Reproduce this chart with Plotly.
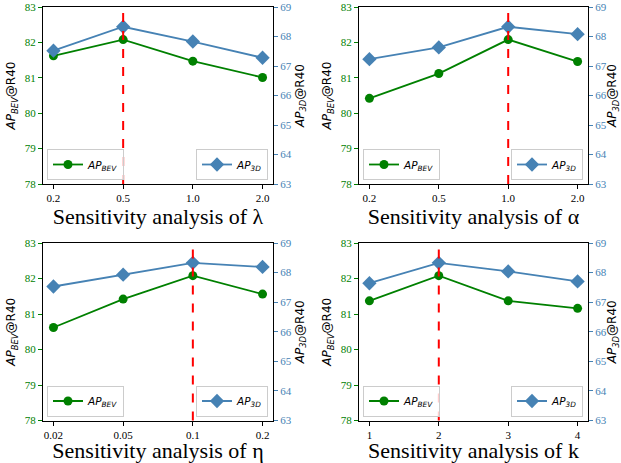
import plotly.graph_objects as go

# ---- data ----
lambda_labels = ["0.2", "0.5", "1.0", "2.0"]
lambda_bev = [81.62, 82.08, 81.47, 81.01]
lambda_3d = [67.52, 68.33, 67.83, 67.28]
lambda_best = "0.5"

alpha_labels = ["0.2", "0.5", "1.0", "2.0"]
alpha_bev = [80.42, 81.12, 82.08, 81.46]
alpha_3d = [67.23, 67.63, 68.33, 68.08]
alpha_best = "1.0"

eta_labels = ["0.02", "0.05", "0.1", "0.2"]
eta_bev = [80.62, 81.42, 82.08, 81.56]
eta_3d = [67.53, 67.93, 68.33, 68.19]
eta_best = "0.1"

k_labels = ["1", "2", "3", "4"]
k_bev = [81.37, 82.08, 81.37, 81.16]
k_3d = [67.64, 68.33, 68.04, 67.70]
k_best = "2"

titles = ["Sensitivity analysis of λ", "Sensitivity analysis of α",
          "Sensitivity analysis of η", "Sensitivity analysis of k"]
panels = [
    (lambda_labels, lambda_bev, lambda_3d, lambda_best),
    (alpha_labels, alpha_bev, alpha_3d, alpha_best),
    (eta_labels, eta_bev, eta_3d, eta_best),
    (k_labels, k_bev, k_3d, k_best),
]

GREEN = "#008000"
BLUE = "#4682B4"
SERIF = "Liberation Serif"
SANS = "DejaVu Sans"

W, H = 621, 463
# plot-area pixel boxes (left, right, top, bottom)
boxes = [(43, 273, 7, 184), (359, 588, 7, 184),
         (43, 273, 243, 420.5), (359, 588, 243, 420.5)]

fig = go.Figure()
layout = dict(width=W, height=H, margin=dict(l=0, r=0, t=0, b=0, autoexpand=False),
              plot_bgcolor="white", paper_bgcolor="white", shapes=[],
              showlegend=True)


def sfx(n):
    return "" if n == 1 else str(n)


for i, (labels, bev, d3, best) in enumerate(panels):
    L, R, T, B = boxes[i]
    xn = i + 1
    yl = 2 * i + 1
    yr = 2 * i + 2
    lg1 = "legend" + sfx(2 * i + 1)
    lg2 = "legend" + sfx(2 * i + 2)
    xs = list(range(len(labels)))

    fig.add_trace(go.Scatter(
        x=xs, y=bev, mode="lines+markers", name="<i>AP<sub>BEV</sub></i>",
        line=dict(color=GREEN, width=1.8), showlegend=True,
        marker=dict(symbol="circle", size=9, color=GREEN),
        xaxis="x" + sfx(xn), yaxis="y" + sfx(yl), legend=lg1))
    fig.add_trace(go.Scatter(
        x=xs, y=d3, mode="lines+markers", name="<i>AP<sub>3D</sub></i>",
        line=dict(color=BLUE, width=1.8), showlegend=True,
        marker=dict(symbol="diamond", size=11, color=BLUE),
        xaxis="x" + sfx(xn), yaxis="y" + sfx(yr), legend=lg2))

    xdom = [L / W, R / W]
    ydom = [1 - B / H, 1 - T / H]

    layout["xaxis" + sfx(xn)] = dict(
        domain=xdom, anchor="y" + sfx(yl), automargin=False,
        range=[-0.15, len(labels) - 0.85],
        tickmode="array", tickvals=xs, ticktext=labels,
        showline=True, linecolor="black", linewidth=1.2, mirror=True,
        ticks="outside", ticklen=4, tickcolor="black", showgrid=False, zeroline=False,
        tickfont=dict(family=SERIF, size=11, color="black"),
        title=dict(text=titles[i], font=dict(family=SERIF, size=22, color="black"),
                   standoff=5))
    layout["yaxis" + sfx(yl)] = dict(
        domain=ydom, anchor="x" + sfx(xn), range=[78, 83], dtick=1, automargin=False,
        showline=True, linecolor="black", linewidth=1.2,
        ticks="outside", ticklen=4, tickcolor=GREEN, showgrid=False, zeroline=False,
        tickfont=dict(family=SERIF, size=11, color=GREEN),
        title=dict(text="<i>AP<sub>BEV</sub></i>@R40",
                   font=dict(family=SANS, size=12, color="black"), standoff=6))
    layout["yaxis" + sfx(yr)] = dict(
        anchor="x" + sfx(xn), overlaying="y" + sfx(yl), side="right", automargin=False,
        range=[63, 69], dtick=1,
        showline=True, linecolor="black", linewidth=1.2,
        ticks="outside", ticklen=4, tickcolor=BLUE, showgrid=False, zeroline=False,
        tickfont=dict(family=SERIF, size=11, color=BLUE),
        title=dict(text="<i>AP<sub>3D</sub></i>@R40",
                   font=dict(family=SANS, size=12, color="black"), standoff=4))

    bi = labels.index(best)
    layout["shapes"].append(dict(
        type="line", xref="x" + sfx(xn), yref="y" + sfx(yl) + " domain",
        x0=bi, x1=bi, y0=0, y1=1,
        line=dict(color="red", width=2, dash="dash")))

    legbase = dict(bgcolor="rgba(255,255,255,0.8)", bordercolor="#cccccc",
                   borderwidth=1, font=dict(family=SANS, size=10.5, color="black"),
                   itemwidth=30, tracegroupgap=0, yanchor="bottom",
                   orientation="h", entrywidthmode="pixels",
                   xref="paper", yref="paper", visible=True)
    layout[lg1] = dict(legbase, entrywidth=30, x=(L + 4) / W, xanchor="left",
                       y=1 - (B - 4) / H)
    layout[lg2] = dict(legbase, entrywidth=25, x=(R - 5) / W, xanchor="right",
                       y=1 - (B - 4) / H)

fig.update_layout(**layout)
fig.write_html("out.html", config={"displayModeBar": False},
               post_script="document.body.style.margin='0px';")
